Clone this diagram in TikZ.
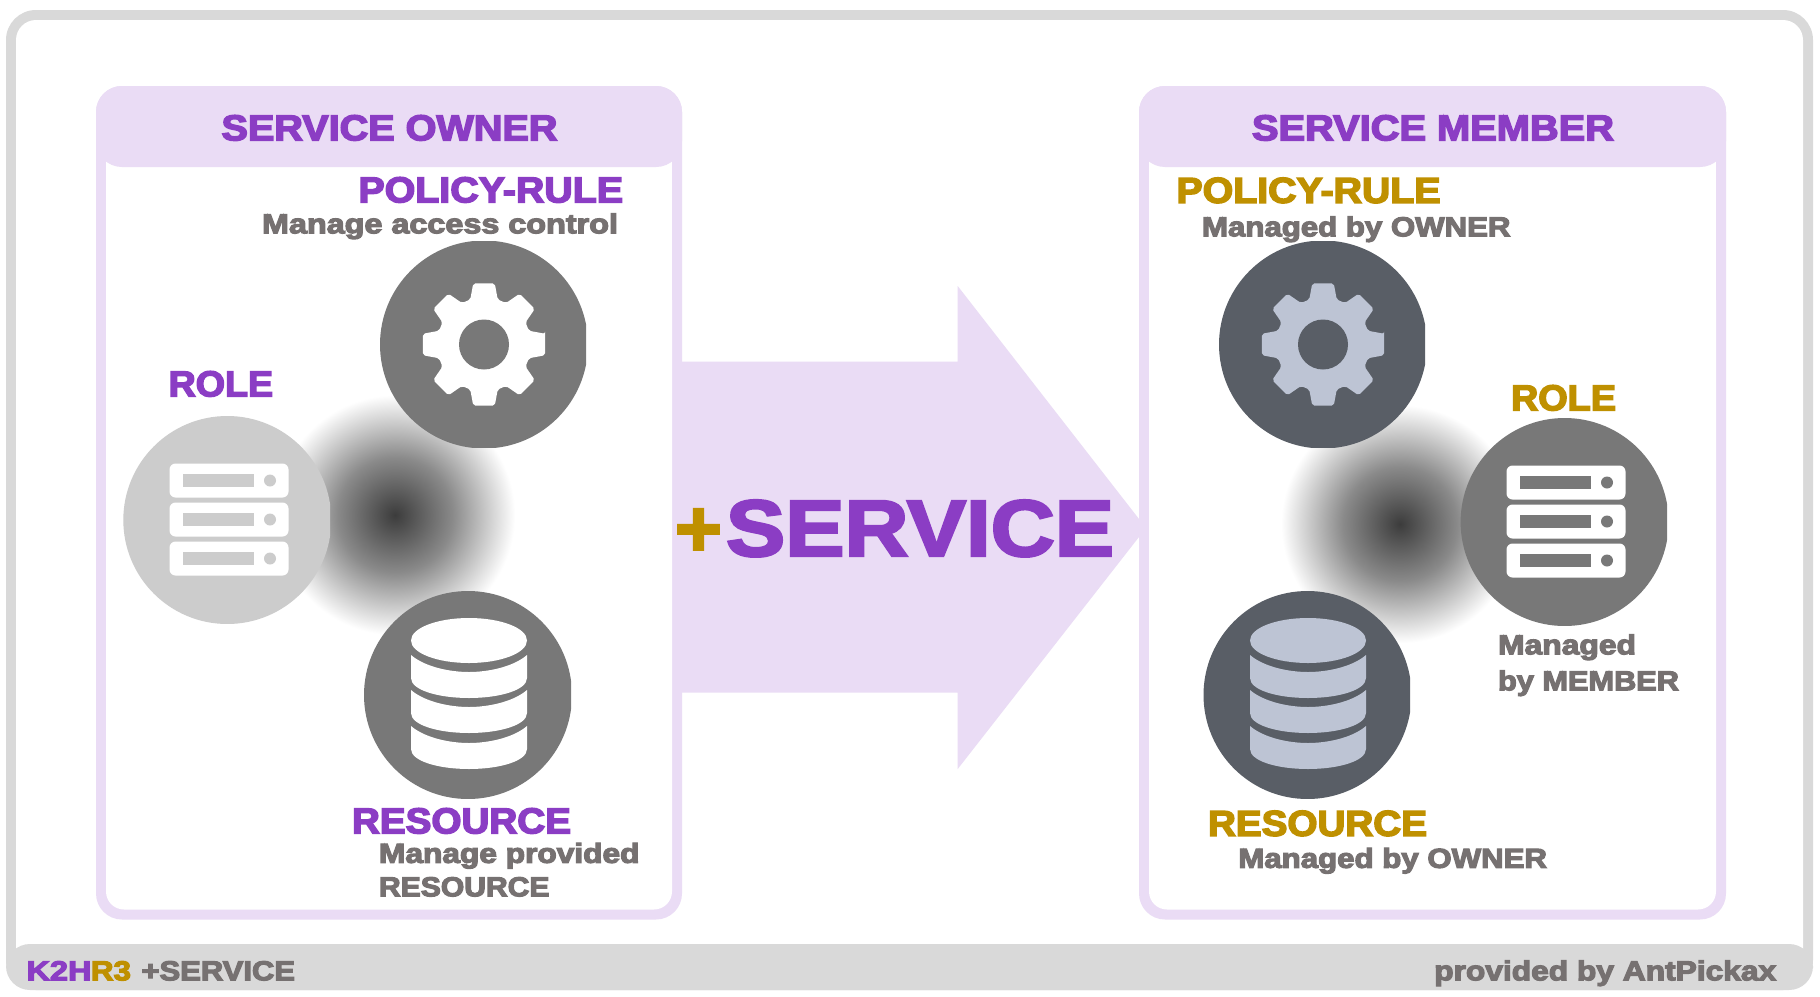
\documentclass[tikz,border=0pt]{standalone}
\usepackage{fontspec}
\usepackage{graphicx}
\usetikzlibrary{calc}
\setmainfont{Liberation Sans}[BoldFont={Liberation Sans Bold},BoldFeatures={FakeBold=4}]
\newfontfamily\bigfont{Liberation Sans Bold}[FakeBold=3]
\definecolor{pur}{HTML}{8B3DC4}
\definecolor{gld}{HTML}{BF9000}
\definecolor{gry}{HTML}{767171}
\definecolor{lil}{HTML}{EADCF5}
\definecolor{frm}{HTML}{D9D9D9}
\definecolor{mid}{HTML}{787878}
\definecolor{lgt}{HTML}{CCCCCC}
\definecolor{slt}{HTML}{595E66}
\definecolor{pal}{HTML}{BDC4D4}
\definecolor{core}{HTML}{3C3C3C}
\definecolor{core2}{HTML}{8A8A8A}
\pgfdeclareradialshading{glowshade}{\pgfpoint{0bp}{0bp}}{%
 color(0bp)=(core); color(12bp)=(core2); color(25bp)=(white); color(50bp)=(white)}
% \tx name, left x, baseline y, width, size, colour, text
\newcommand{\tx}[7]{\node[txt,text=#6] (#1) at (#2,#3+0.8) {\resizebox{#4pt}{\height}{\fontsize{#5}{#5}\selectfont\bfseries #7}};}
\newcommand{\txbig}[7]{\node[txt,text=#6] (#1) at (#2,#3) {\resizebox{#4pt}{\height}{\fontsize{#5}{#5}\selectfont\bigfont #7}};}
\tikzset{
 txt/.style={anchor=base west,inner sep=0pt,outer sep=0pt}
}
\newcommand{\gearshape}[4]{%
 \fill[#4,rounded corners=2pt]
  ($(#1,#2)+(-10:62)$)
  \foreach \a in {0,45,...,315}{
   -- ($(#1,#2)+({\a-10}:62)$) -- ($(#1,#2)+({\a+10}:62)$) -- ($(#1,#2)+({\a+17}:47)$) -- ($(#1,#2)+({\a+28}:47)$)
  } -- cycle;
 \fill[#3] (#1,#2) circle[radius=25];
}
\newcommand{\servers}[4]{% x,y offset, bar colour, hole colour
 \begin{scope}[shift={(#1,#2)}]
 \foreach \yy in {464,503,542}{
  \fill[#3,rounded corners=6pt] (169.5,\yy-0.5) rectangle (288.5,\yy+33.5);
  \fill[#4] (183,\yy+10) rectangle (253.5,\yy+23);
  \fill[#4] (270,\yy+16.5) circle[radius=6];
 }
 \end{scope}}
\newcommand{\dbicon}[3]{% x,y offset, colour
 \begin{scope}[shift={(#1,#2)}]
 \fill[#3] (469,640.5) ellipse[x radius=58,y radius=22.5];
 \foreach \dy in {0,35,71}{
  \fill[#3] (411,655+\dy) .. controls (425,667+\dy) and (450,672+\dy) .. (469,672+\dy) .. controls (488,672+\dy) and (513,667+\dy) .. (527,655+\dy) -- (527,678+\dy) .. controls (527,690+\dy) and (500,698+\dy) .. (469,698+\dy) .. controls (438,698+\dy) and (411,690+\dy) .. (411,678+\dy) -- cycle;
 }
 \end{scope}}
\begin{document}
\begin{tikzpicture}[x=1pt,y=-1pt]
\useasboundingbox (0,0) rectangle (1820,996);
\fill[white] (0,0) rectangle (1820,996);
% outer frame
\fill[frm,rounded corners=30pt] (6,10) rectangle (1813,990);
\fill[white,rounded corners=20pt] (16,20) rectangle (1803,975);
\fill[frm,rounded corners=24pt] (6,944) rectangle (1813,990);
% panels
\foreach \pa/\pb in {96/682,1139/1726}{
 \fill[lil,rounded corners=26pt] (\pa,86) rectangle (\pb,919.5);
 \fill[white,rounded corners=18pt] (\pa+10,120) rectangle (\pb-10,909.5);
 \fill[lil] (\pa,120) rectangle (\pa+10,300);
 \fill[lil] (\pb-10,120) rectangle (\pb,300);
 \fill[lil,rounded corners=26pt] (\pa,86) rectangle (\pb,167);
}
% arrow
\fill[lil] (682,361.7) -- (957.7,361.7) -- (957.7,286) -- (1146,528) -- (957.7,769) -- (957.7,692.7) -- (682,692.7) -- cycle;
% glows
\shade[shading=glowshade] (395,515) circle[radius=120];
\shade[shading=glowshade] (1400,524) circle[radius=119];
% discs
\begin{scope}\clip (380,241) rectangle (586,447);\fill[mid] (484,344.5) circle[radius=104];\end{scope}
\begin{scope}\clip (123,416) rectangle (330,623);\fill[lgt] (227.3,520) circle[radius=104];\end{scope}
\begin{scope}\clip (364,591) rectangle (571,798);\fill[mid] (468,695) circle[radius=104];\end{scope}
\begin{scope}\clip (1219,241) rectangle (1425,447);\fill[slt] (1323,344.5) circle[radius=104];\end{scope}
\begin{scope}\clip (1460,418) rectangle (1667,625);\fill[mid] (1564.6,522) circle[radius=104];\end{scope}
\begin{scope}\clip (1203,591) rectangle (1410,798);\fill[slt] (1307.5,695) circle[radius=104];\end{scope}
% icons
\gearshape{484}{344.5}{mid}{white}
\gearshape{1323}{344.5}{slt}{pal}
\servers{0}{0}{white}{lgt}
\servers{1337}{2}{white}{mid}
\dbicon{0}{0}{white}
\dbicon{839}{0}{pal}
% texts
\tx{a1}{221.5}{139.5}{336}{36}{pur}{SERVICE OWNER}
\tx{a2}{358.5}{201.5}{264.5}{36}{pur}{POLICY-RULE}
\tx{a3}{262}{232.5}{356}{27.5}{gry}{Manage access control}
\tx{a4}{168.6}{395.5}{104.5}{36}{pur}{ROLE}
\tx{a5}{352}{832.5}{219}{36}{pur}{RESOURCE}
\tx{a6}{379}{862}{260.5}{27.5}{gry}{Manage provided}
\tx{a7}{379}{895.5}{170.5}{27.5}{gry}{RESOURCE}
\tx{b1}{1252}{139.5}{362}{36}{pur}{SERVICE MEMBER}
\tx{b2}{1176.5}{202}{264}{36}{gld}{POLICY-RULE}
\tx{b3}{1202}{235.5}{308.5}{27.5}{gry}{Managed by OWNER}
\tx{b4}{1511}{409.5}{105}{36}{gld}{ROLE}
\tx{b5}{1498}{653.5}{138}{27.5}{gry}{Managed}
\tx{b6}{1498}{689.5}{181}{27.5}{gry}{by MEMBER}
\tx{b7}{1208}{835}{219}{36}{gld}{RESOURCE}
\tx{b8}{1238.3}{867}{308.7}{27.5}{gry}{Managed by OWNER}
\tx{c1}{26.5}{979.5}{65}{27.5}{pur}{K2H}
\tx{c2}{91}{979.5}{40}{27.5}{gld}{R3}
\tx{c3}{141.5}{979.5}{153.5}{27.5}{gry}{+SERVICE}
\tx{c4}{1434.2}{979.5}{342}{27.5}{gry}{provided by AntPickax}
\txbig{d1}{675}{556}{47}{80}{gld}{+}
\txbig{d2}{726}{556}{388}{80}{pur}{SERVICE}
\end{tikzpicture}
\end{document}
